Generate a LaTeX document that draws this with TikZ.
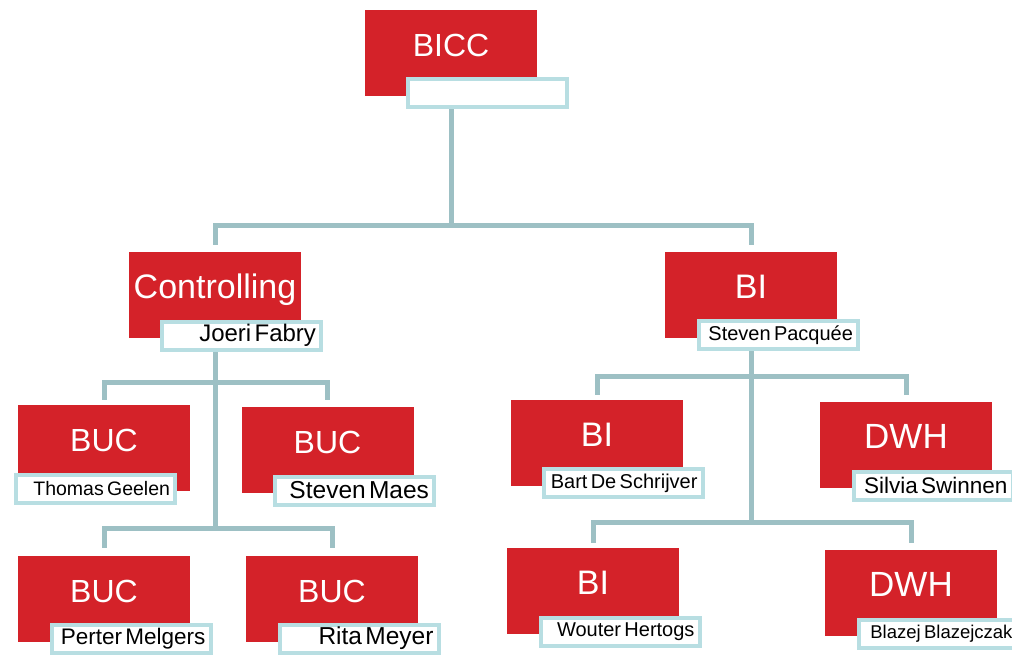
\documentclass[tikz,border=0pt]{standalone}
\usepackage{fontspec}
\setmainfont{Liberation Sans}
\usepackage{xcolor}
\usepackage{tikz}
\usetikzlibrary{calc,backgrounds}

\definecolor{bicred}{HTML}{D42229}
\definecolor{linkgray}{HTML}{9DC0C4}
\definecolor{tagblue}{HTML}{B8DEE2}
\newcommand{\fsz}[1]{\fontsize{#1}{#1}\selectfont}

\begin{document}
\begin{tikzpicture}[x=1pt,y=-1pt,
  unit/.style={fill=bicred,text=white,minimum width=172pt,minimum height=86pt,
    inner sep=0pt,text height=23pt,text depth=16pt},
  staff/.style={draw=tagblue,line width=4pt,fill=white,minimum width=159pt,
    minimum height=28pt,inner xsep=5pt,inner ysep=0pt,text width=149pt,align=right},
  link/.style={draw=linkgray,line width=5pt}]
\useasboundingbox (0,0) rectangle (1012,655);

% Units
\node[unit] (bicc) at (451,53) {\fsz{32}BICC};
\node[unit] (ctrl) at (215,295) {\fsz{34}Controlling};
\node[unit] (bi)   at (751,295) {\fsz{34}BI};
\node[unit] (buc1) at (104,448) {\fsz{32}BUC};
\node[unit] (buc2) at (327.5,450) {\fsz{32}BUC};
\node[unit] (buc3) at (104,599) {\fsz{32}BUC};
\node[unit] (buc4) at (332,599) {\fsz{32}BUC};
\node[unit] (bi1)  at (597,443) {\fsz{34}BI};
\node[unit] (dwh1) at (906,445) {\fsz{35}DWH};
\node[unit] (bi2)  at (593,591) {\fsz{34}BI};
\node[unit] (dwh2) at (911,593) {\fsz{35}DWH};

% Names
\node[staff] (biccN) at ($(bicc)+(36.5,40)$) {};
\node[staff] (ctrlN) at ($(ctrl)+(26.5,40.5)$) {\fsz{24}Joeri Fabry};
\node[staff] (biN)   at ($(bi)+(27.5,40)$) {\fsz{20}Steven Pacquée};
\node[staff] (buc1N) at ($(buc1)+(-8.5,40.5)$) {\fsz{19.5}Thomas Geelen};
\node[staff] (buc2N) at ($(buc2)+(27,40.5)$) {\fsz{24.5}Steven Maes};
\node[staff] (buc3N) at ($(buc3)+(27,39.5)$) {\fsz{22.5}Perter Melgers};
\node[staff] (buc4N) at ($(buc4)+(27,39.5)$) {\fsz{24.5}Rita Meyer};
\node[staff] (bi1N)  at ($(bi1)+(26,40)$) {\fsz{20}Bart De Schrijver};
\node[staff] (dwh1N) at ($(dwh1)+(27,40.5)$) {\fsz{22.5}Silvia Swinnen};
\node[staff] (bi2N)  at ($(bi2)+(27,40.5)$) {\fsz{20}Wouter Hertogs};
\node[staff] (dwh2N) at ($(dwh2)+(27,40.5)$) {\fsz{18.5}\hspace*{2pt}\mbox{Blazej Blazejczak}};

% Connectors
\coordinate (top) at (451,226);
\coordinate (jl1) at (215,382);
\coordinate (jl2) at (215,528);
\coordinate (jr1) at (751,376);
\coordinate (jr2) at (751,522);
\begin{scope}[on background layer]
\draw[link] (bicc.south) -- (top);
\draw[link,shorten <=7pt,shorten >=7pt] (ctrl.north) |- (top) -| (bi.north);
\draw[link] (ctrl.south) -- (jl2);
\draw[link,shorten <=5pt,shorten >=7pt] (buc1.north) |- (jl1) -| (buc2.north);
\draw[link,shorten <=8pt,shorten >=8pt] (buc3.north) |- (jl2) -| (buc4.north);
\draw[link] (bi.south) -- (jr2);
\draw[link,shorten <=5pt,shorten >=7pt] (bi1.north) |- (jr1) -| (dwh1.north);
\draw[link,shorten <=5pt,shorten >=7pt] (bi2.north) |- (jr2) -| (dwh2.north);
\end{scope}
\end{tikzpicture}
\end{document}
